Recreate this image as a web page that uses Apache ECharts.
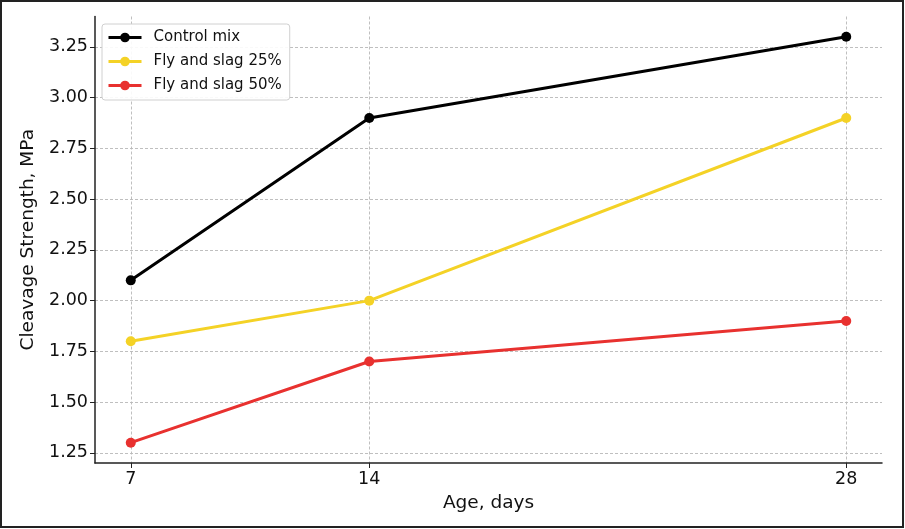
<!DOCTYPE html>
<html>
<head>
<meta charset="utf-8">
<script src="https://cdn.jsdelivr.net/npm/echarts@6/dist/echarts.min.js"></script>
<style>
html,body{margin:0;padding:0;background:#fff;}
#c{width:905px;height:529px;}
</style>
</head>
<body>
<div id="c"></div>
<script>
const ages = [7, 14, 28];
const controlMix = [2.1, 2.9, 3.3];
const flySlag25 = [1.8, 2.0, 2.9];
const flySlag50 = [1.3, 1.7, 1.9];
const yTicks = [1.25, 1.5, 1.75, 2.0, 2.25, 2.5, 2.75, 3.0, 3.25];
const seriesNames = ['Control mix', 'Fly and slag 25%', 'Fly and slag 50%'];
const colors = ['#000000', '#f4d226', '#e8312f'];

const font = 'DejaVu Sans';
const chart = echarts.init(document.getElementById('c'), null, {renderer: 'canvas'});

function mk(name, vals, color) {
  return {
    name: name,
    type: 'line',
    data: ages.map((a, i) => [a, vals[i]]),
    symbol: 'circle',
    symbolSize: 10,
    showSymbol: true,
    lineStyle: {width: 3, color: color},
    itemStyle: {color: color},
    animation: false,
    z: 3
  };
}

const gridLine = {show: true, lineStyle: {color: '#b8b8b8', type: [3, 2], width: 0.9}};

chart.setOption({
  animation: false,
  backgroundColor: '#fff',
  grid: {left: 95, right: 23, top: 16.5, bottom: 66, containLabel: false},
  xAxis: {
    type: 'value',
    min: 5.95,
    max: 29.05,
    name: 'Age, days',
    nameLocation: 'middle',
    nameGap: 31,
    nameTextStyle: {fontFamily: font, fontSize: 18.5, color: '#111'},
    axisLine: {show: true, onZero: false, lineStyle: {color: '#222', width: 1.5}},
    axisTick: {show: true, customValues: ages, length: 5, lineStyle: {color: '#222'}},
    axisLabel: {customValues: ages, fontFamily: font, fontSize: 17.5, color: '#111', margin: 7},
    splitLine: gridLine
  },
  yAxis: {
    type: 'value',
    min: 1.2,
    max: 3.4,
    name: 'Cleavage Strength, MPa',
    nameLocation: 'middle',
    nameGap: 53,
    nameTextStyle: {fontFamily: font, fontSize: 18.5, color: '#111'},
    axisLine: {show: true, lineStyle: {color: '#222', width: 1.5}},
    axisTick: {show: true, customValues: yTicks, length: 5, lineStyle: {color: '#222'}},
    axisLabel: {customValues: yTicks, fontFamily: font, fontSize: 17.5, color: '#111', margin: 7,
      formatter: v => v.toFixed(2)},
    splitLine: gridLine
  },
  legend: {
    left: 102,
    top: 24,
    orient: 'vertical',
    data: seriesNames,
    backgroundColor: 'rgba(255,255,255,0.9)',
    borderColor: '#d0d0d0',
    borderWidth: 1,
    borderRadius: 3,
    padding: [6, 8, 7, 5],
    itemWidth: 33,
    itemHeight: 12,
    itemGap: 9,
    lineStyle: {width: 3},
    textStyle: {fontFamily: font, fontSize: 15, color: '#111', padding: [0, 0, 0, 7]}
  },
  graphic: [{
    type: 'rect',
    shape: {x: 1, y: 1, width: 902, height: 526},
    style: {fill: 'none', stroke: '#222', lineWidth: 2},
    silent: true,
    z: 100
  }],
  series: [
    mk(seriesNames[0], controlMix, colors[0]),
    mk(seriesNames[1], flySlag25, colors[1]),
    mk(seriesNames[2], flySlag50, colors[2])
  ]
});
</script>
</body>
</html>
